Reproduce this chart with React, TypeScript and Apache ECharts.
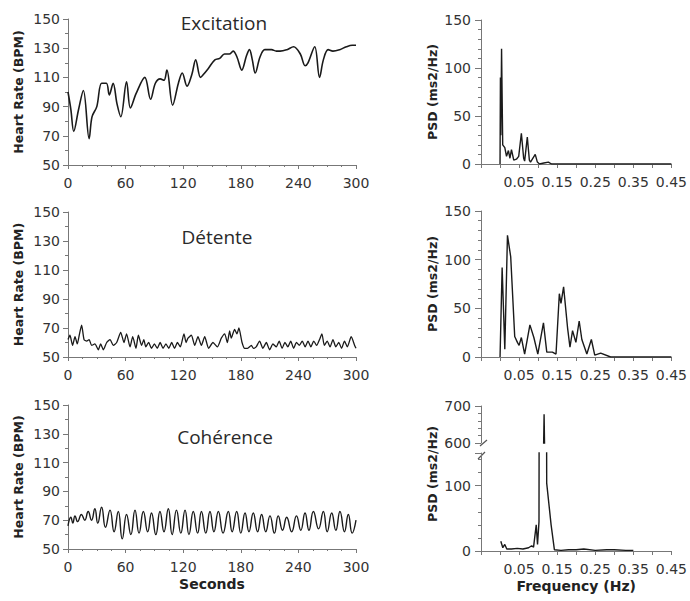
import React, { useEffect, useRef } from 'react';
import * as echarts from 'echarts';

// ---- Heart rate time series (seconds, BPM) ----
const excitationSec = [0, 3, 6, 11, 16, 22, 25, 30, 35, 40, 43, 47, 51, 55, 61, 65, 71, 80, 86, 91, 96, 100, 103, 109, 115, 119, 124, 129, 133, 138, 141, 146, 153, 158, 163, 168, 172, 176, 181, 186, 189, 192, 195, 200, 205, 212, 217, 221, 228, 235, 242, 247, 250, 257, 262, 266, 271, 276, 283, 290, 296, 300];
const excitationBpm = [100, 88, 73, 88, 101, 68, 83, 90, 106, 106, 98, 106, 92, 83, 107, 89, 99, 110, 95, 106, 109, 108, 115, 91, 106, 113, 104, 112, 122, 110, 112, 116, 122, 123, 126, 126, 128, 124, 115, 125, 129, 122, 113, 124, 129, 129, 128, 128, 129, 131, 126, 118, 120, 131, 110, 122, 129, 128, 129, 131, 132, 132];

const detenteSec = [0, 2, 4.8, 7.3, 9.7, 12, 14.2, 16.7, 19.4, 22, 24.6, 28, 31.6, 34, 36.8, 40.3, 43.8, 47.2, 50.7, 54.9, 58.3, 61, 64.6, 67.4, 70.8, 73.3, 76.7, 79, 81, 84, 87, 90, 93, 96, 99, 102, 105, 108, 111, 114, 117, 120.8, 123, 125, 128.5, 132, 135.4, 138.9, 142.4, 146.5, 151, 155.6, 159.7, 163.2, 166, 168.4, 170, 173.6, 176, 178, 181.3, 184, 187, 191, 193, 196, 199.6, 203, 206.6, 210, 213.5, 217, 220, 223, 226, 229, 232, 235, 238, 241, 244, 247, 250, 253, 256, 259, 262, 264.5, 267, 270, 273, 276, 279, 282, 285, 288, 291, 295, 298.6, 300];
const detenteBpm = [62, 65, 58, 64, 59, 66, 72, 62, 61, 62, 58, 59, 55, 59, 55, 60, 62, 58, 60, 67, 60, 66, 57, 64, 56, 65, 58, 62, 57, 60, 56, 59, 56, 60, 56, 59, 56, 60, 56, 60, 57, 66, 60, 63, 65, 58, 64, 58, 64, 56, 60, 57, 63, 66, 60, 68, 63, 69, 66, 70, 60, 56, 56, 58, 56, 57, 61, 56, 60, 55, 59, 57, 61, 56, 60, 57, 61, 56, 60, 58, 61, 57, 61, 57, 61, 58, 62, 66, 58, 61, 57, 62, 57, 60, 56, 61, 57, 64, 58, 56];

const coherenceSec = [0, 3, 5, 7.3, 10, 14, 17.5, 21, 24.5, 28, 31, 35, 39, 43.8, 48, 52.4, 56.5, 61, 65.5, 69.8, 74, 78.5, 83, 87, 91.5, 95.8, 100, 104.5, 108.5, 113, 117.5, 121.9, 126, 130.5, 135, 139, 143.5, 147.9, 152, 156.6, 161.5, 167, 171, 175.7, 180, 184.4, 188.5, 193, 197.5, 201.7, 206, 210.4, 215, 219, 223.5, 227.8, 233, 238, 242.5, 246.9, 251, 255.6, 261, 266, 270, 274.7, 279, 283.3, 288, 292, 296, 300];
const coherenceBpm = [66, 72, 68, 73, 69, 74, 70, 76, 70, 78, 68, 79, 65, 77, 62, 76, 57, 74, 60, 77, 61, 76, 62, 75, 60, 76, 62, 78, 60, 77, 61, 77, 60, 76, 61, 76, 61, 76, 62, 76, 61, 76, 62, 76, 61, 75, 62, 75, 62, 74, 62, 73, 61, 73, 63, 72, 62, 73, 63, 75, 63, 76, 64, 76, 62, 75, 63, 76, 62, 74, 61, 70];

// ---- PSD spectra (Hz, ms2/Hz) ----
const excitationFreq = [0, 0.001, 0.002, 0.004, 0.007, 0.0125, 0.017, 0.022, 0.026, 0.03, 0.036, 0.043, 0.049, 0.056, 0.062, 0.0646, 0.0716, 0.077, 0.08, 0.0924, 0.098, 0.1036, 0.115, 0.127, 0.135, 0.16, 0.45];
const excitationPsd = [0, 90, 30, 120, 20, 17, 8, 14, 6, 15, 4, 5, 8, 32, 6, 3, 28, 4, 2, 10, 2, 0, 1, 2, 0, 0, 0];

const detenteFreq = [0, 0.0055, 0.0125, 0.0195, 0.028, 0.0385, 0.0456, 0.05, 0.056, 0.0646, 0.0784, 0.0888, 0.0992, 0.114, 0.1227, 0.1375, 0.147, 0.1557, 0.16, 0.1669, 0.1773, 0.1836, 0.1904, 0.1992, 0.2078, 0.2148, 0.2279, 0.2398, 0.2487, 0.2643, 0.2904, 0.45];
const detentePsd = [0, 92, 8, 125, 103, 21, 15, 12, 20, 3, 33, 20, 3, 35, 5, 5, 3, 65, 55, 72, 30, 10, 27, 15, 37, 18, 3, 18, 2, 4, 0, 0];

const coherenceFreq = [0.002, 0.0073, 0.0125, 0.0177, 0.03, 0.045, 0.06, 0.075, 0.083, 0.088, 0.095, 0.0984, 0.1023, 0.1036, 0.113, 0.1143, 0.1156, 0.121, 0.1225, 0.1341, 0.1427, 0.16, 0.18, 0.2, 0.22, 0.25, 0.28, 0.3, 0.33, 0.35];
const coherencePsd = [15, 5, 10, 3, 3, 4, 3, 5, 8, 6, 40, 10, 45, 590, 590, 678, 590, 590, 104, 40, 2, 1, 2, 2, 3, 1, 2, 2, 1, 1];

const panelTitles = ['Excitation', 'Détente', 'Cohérence'];

const zip = (a: number[], b: number[]) => a.map((v, i) => [v, b[i]]);

const AXIS_COLOR = '#777';
const LINE_COLOR = '#1a1a1a';
const FONT = 'DejaVu Sans';
const tickLabel = { color: '#333', fontFamily: FONT, fontSize: 14 };
const axisLine = { show: true, onZero: false, lineStyle: { color: AXIS_COLOR, width: 1 } };
const nameStyleY = { fontFamily: FONT, fontWeight: 'bold' as const, fontSize: 12.5, color: '#222' };
const nameStyleX = { fontFamily: FONT, fontWeight: 'bold' as const, fontSize: 14, color: '#222' };

function leftX(gridIndex: number, name?: string) {
  return {
    type: 'value', gridIndex, min: 0, max: 300, interval: 60,
    axisLine,
    axisTick: { show: true, length: 4, lineStyle: { color: AXIS_COLOR } },
    minorTick: { show: true, splitNumber: 4, length: 2, lineStyle: { color: AXIS_COLOR } },
    axisLabel: { ...tickLabel, margin: 11 },
    splitLine: { show: false },
    name, nameLocation: 'middle', nameGap: 28, nameTextStyle: nameStyleX,
  };
}

function leftY(gridIndex: number) {
  return {
    type: 'value', gridIndex, min: 50, max: 150, interval: 20,
    axisLine,
    axisTick: { show: true, length: 5, lineStyle: { color: AXIS_COLOR } },
    minorTick: { show: true, splitNumber: 2, length: 3, lineStyle: { color: AXIS_COLOR } },
    axisLabel: { ...tickLabel, margin: 8 },
    splitLine: { show: false },
    name: 'Heart Rate (BPM)', nameLocation: 'middle', nameGap: 43, nameTextStyle: nameStyleY,
  };
}

const freqFormatter = (v: number) => {
  const k = Math.round(v * 100);
  return k > 0 && k % 10 === 5 ? v.toFixed(2) : '';
};

function rightX(gridIndex: number, show = true, name?: string) {
  return {
    type: 'value', gridIndex, min: -0.05, max: 0.45, interval: 0.05, show,
    axisLine,
    axisTick: { show: true, length: 4, lineStyle: { color: AXIS_COLOR } },
    axisLabel: { ...tickLabel, margin: 11, formatter: freqFormatter },
    splitLine: { show: false },
    name, nameLocation: 'middle', nameGap: 28, nameTextStyle: nameStyleX,
  };
}

function rightY(gridIndex: number, min: number, max: number, interval: number, withName: boolean, hide150 = false) {
  return {
    type: 'value', gridIndex, min, max, interval,
    axisLine,
    axisTick: { show: true, length: 6, lineStyle: { color: AXIS_COLOR } },
    minorTick: { show: true, splitNumber: 5, length: 3, lineStyle: { color: AXIS_COLOR } },
    axisLabel: { ...tickLabel, margin: 10, formatter: (v: number) => (hide150 && v > 100 ? '' : String(v)) },
    splitLine: { show: false },
    name: withName ? 'PSD (ms2/Hz)' : undefined, nameLocation: 'middle', nameGap: 42, nameTextStyle: nameStyleY,
  };
}

function lineSeries(data: number[][], idx: number, smooth: number | boolean = false, width = 1.4) {
  return {
    type: 'line', data, xAxisIndex: idx, yAxisIndex: idx,
    showSymbol: false, symbol: 'none', clip: true, smooth,
    lineStyle: { color: LINE_COLOR, width },
  };
}

export default function App() {
  const ref = useRef<HTMLDivElement>(null);
  useEffect(() => {
    const chart = echarts.init(ref.current!, null, { renderer: 'svg' });
    const option: any = {
      animation: false,
      backgroundColor: '#fff',
      grid: [
        { left: 68, top: 19, width: 288, height: 146 },
        { left: 68, top: 212, width: 288, height: 145 },
        { left: 68, top: 405, width: 288, height: 144 },
        { left: 481, top: 20, width: 192, height: 144 },
        { left: 481, top: 211, width: 192, height: 146 },
        { left: 481, top: 406, width: 192, height: 37 },
        { left: 481, top: 453, width: 192, height: 98 },
      ],
      xAxis: [
        leftX(0), leftX(1), leftX(2, 'Seconds'),
        rightX(3), rightX(4), rightX(5, false), rightX(6, true, 'Frequency (Hz)'),
      ],
      yAxis: [
        leftY(0), leftY(1), leftY(2),
        rightY(3, 0, 150, 50, true), rightY(4, 0, 150, 50, true),
        rightY(5, 600, 700, 100, false), rightY(6, 0, 150, 100, false, true),
      ],
      series: [
        lineSeries(zip(excitationSec, excitationBpm), 0, 0.35, 1.6),
        lineSeries(zip(detenteSec, detenteBpm), 1, 0.2, 1.3),
        lineSeries(zip(coherenceSec, coherenceBpm), 2, 0.5, 1.4),
        lineSeries(zip(excitationFreq, excitationPsd), 3),
        lineSeries(zip(detenteFreq, detentePsd), 4),
        lineSeries(zip(coherenceFreq, coherencePsd), 5),
        lineSeries(zip(coherenceFreq, coherencePsd), 6),
      ],
      graphic: [
        ...panelTitles.map((t, i) => ({
          type: 'text', x: [224, 217, 225][i], y: [23, 237, 437][i],
          style: { text: t, fontFamily: 'Open Sans', fontSize: 19, fill: '#2a2a2a', textAlign: 'center', textVerticalAlign: 'middle' },
        })),
        {
          type: 'text', x: 432, y: 474, rotation: Math.PI / 2,
          style: { text: 'PSD (ms2/Hz)', fontFamily: FONT, fontWeight: 'bold', fontSize: 12.5, fill: '#222', textAlign: 'center', textVerticalAlign: 'middle' },
        },
        { type: 'line', shape: { x1: 480, y1: 446, x2: 487, y2: 440 }, style: { stroke: '#555', lineWidth: 1.2 } },
        { type: 'line', shape: { x1: 478, y1: 459, x2: 485, y2: 452 }, style: { stroke: '#555', lineWidth: 1.2 } },
      ],
    };
    chart.setOption(option);
    return () => chart.dispose();
  }, []);
  return <div ref={ref} style={{ position: 'fixed', left: 0, top: 0, width: 690, height: 601, background: '#fff' }} />;
}
